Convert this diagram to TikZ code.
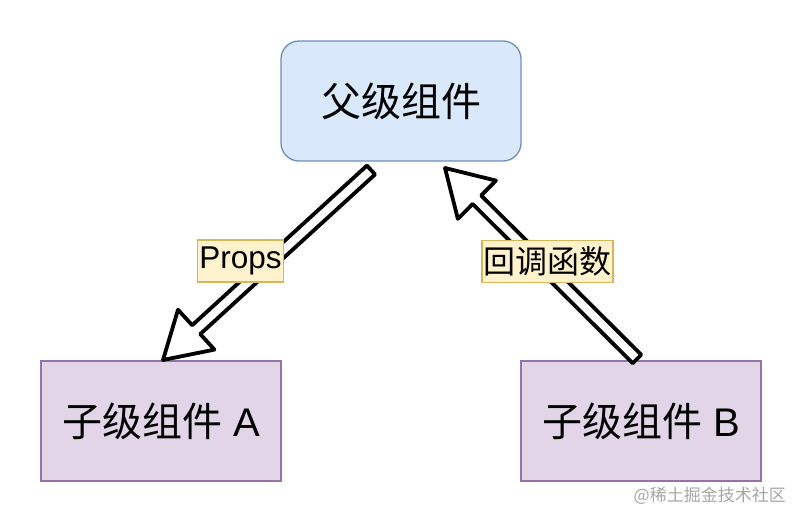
\documentclass[tikz,border=0pt]{standalone}
\usepackage{fontspec}
\setmainfont{Liberation Sans}
\newfontfamily\cjk{Noto Sans CJK SC}
\usetikzlibrary{calc}
\definecolor{pfill}{HTML}{DAE8FC}
\definecolor{pdraw}{HTML}{6C8EBF}
\definecolor{cfill}{HTML}{E1D5E7}
\definecolor{cdraw}{HTML}{9673A6}
\definecolor{lfill}{HTML}{FFF2CC}
\definecolor{ldraw}{HTML}{D6B656}
\definecolor{wm}{HTML}{A6A6A6}
\tikzset{
  parentbox/.style={draw=pdraw, fill=pfill, line width=1.3pt, rounded corners=18pt, minimum width=240pt, minimum height=120pt, inner sep=0pt, font=\cjk\fontsize{40}{44}\selectfont},
  childbox/.style={draw=cdraw, fill=cfill, line width=1.3pt, minimum width=240pt, minimum height=120pt, inner sep=0pt, font=\fontsize{40}{44}\selectfont},
  edgelabel/.style={draw=ldraw, fill=lfill, line width=1.2pt, inner xsep=1.5pt, inner ysep=0pt, minimum height=42pt, font=\fontsize{31.5}{34}\selectfont},
  blockarrow/.style={draw=black, fill=white, line width=3.8pt, line join=round},
  watermark/.style={text=wm, font=\cjk\fontsize{17}{19}\selectfont, anchor=east, inner sep=0pt}
}
\newcommand{\hollowarrow}[2]{%
  \coordinate (hb) at ($(#2)!45pt!(#1)$);
  \draw[blockarrow] ($(#1)!6pt!90:(#2)$) -- ($(hb)!6pt!-90:(#1)$) -- ($(hb)!27pt!-90:(#1)$) -- (#2)
    -- ($(hb)!27pt!90:(#1)$) -- ($(hb)!6pt!90:(#1)$) -- ($(#1)!6pt!-90:(#2)$) -- cycle;
}
\begin{document}
\begin{tikzpicture}[x=1pt,y=-1pt]
\useasboundingbox (0,0) rectangle (802,522);
\node[parentbox] (parent) at (401,101) {父级组件};
\node[childbox] (childA) at (161,421) {{\cjk 子级组件} A};
\node[childbox] (childB) at (641,421) {{\cjk 子级组件} B};
\coordinate (a1) at (371,170);
\coordinate (b1) at (163,360);
\coordinate (a2) at (637,359);
\coordinate (b2) at (445,168);
\hollowarrow{a1}{b1}
\hollowarrow{a2}{b2}
\node[edgelabel] (lp) at (240.5,261) {Props};
\node[edgelabel, font=\cjk\fontsize{32}{34}\selectfont] (lc) at (547.5,261.5) {回调函数};
\node[watermark] (wmk) at (786,496) {@稀土掘金技术社区};
\end{tikzpicture}
\end{document}
